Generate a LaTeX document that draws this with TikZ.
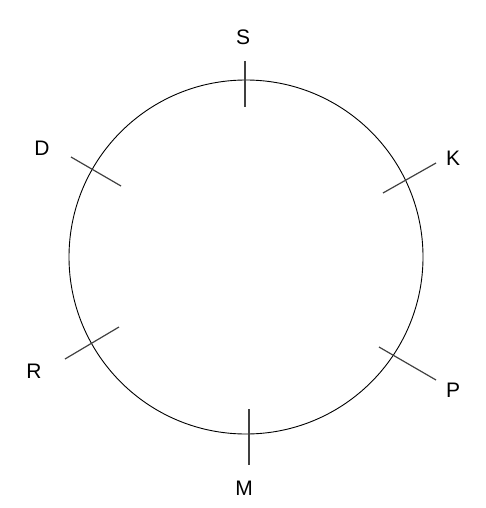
\documentclass[tikz,border=0pt]{standalone}
\usepackage{fontspec}
\setmainfont{Liberation Sans}
\begin{document}
\begin{tikzpicture}[x=1pt,y=-1pt,
  lbl/.style={font=\fontsize{21}{24}\selectfont, inner sep=0pt},
  tick/.style={draw=black!75, line width=1.2pt},
  ring/.style={draw=black, line width=0.9pt}]
\useasboundingbox (0,0) rectangle (486,508);
\coordinate (c) at (246,257);
\draw[ring] (c) circle[radius=177];
% ticks
\coordinate (s1) at (245,61);  \coordinate (s2) at (245,107);
\coordinate (k1) at (383,193); \coordinate (k2) at (436,163);
\coordinate (d1) at (71,157);  \coordinate (d2) at (121,186);
\coordinate (r1) at (65,359);  \coordinate (r2) at (119,327);
\coordinate (p1) at (379,347); \coordinate (p2) at (436,380);
\coordinate (m1) at (249,409); \coordinate (m2) at (249,465);
\draw[tick] (s1) -- (s2);
\draw[tick] (k1) -- (k2);
\draw[tick] (d1) -- (d2);
\draw[tick] (r1) -- (r2);
\draw[tick] (p1) -- (p2);
\draw[tick] (m1) -- (m2);
% labels
\node[lbl] (S) at (243,37) {S};
\node[lbl] (K) at (453,158) {K};
\node[lbl] (D) at (42,148) {D};
\node[lbl] (R) at (34,371) {R};
\node[lbl] (P) at (453,390) {P};
\node[lbl] (M) at (244,488) {M};
\end{tikzpicture}
\end{document}
